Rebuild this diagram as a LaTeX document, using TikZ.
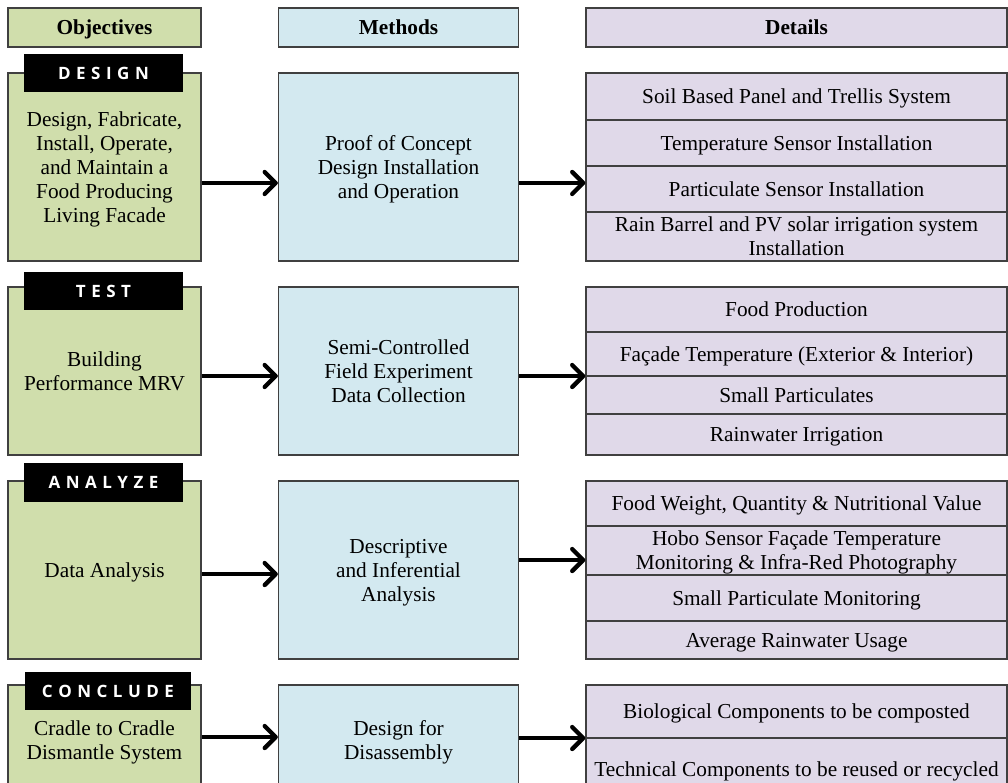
\documentclass[tikz,border=0pt]{standalone}
\usepackage{fontspec}
\setmainfont{Liberation Serif}
\newfontfamily\tagfam{Open Sans}
\usetikzlibrary{arrows.meta}
\definecolor{gfill}{RGB}{208,222,172}
\definecolor{bfill}{RGB}{211,233,240}
\definecolor{pfill}{RGB}{224,217,233}
\definecolor{bord}{RGB}{64,64,64}
\newcommand\lsp{\kern5.5pt}
\newcommand\bodyfnt{\fontsize{21.3}{24}\selectfont}
\tikzset{
  box/.style={draw=bord, line width=1.3pt, inner sep=0pt, align=center, font=\bodyfnt, text=black, text depth=-3pt},
  gbox/.style={box, fill=gfill},
  bbox/.style={box, fill=bfill},
  pbox/.style={box, fill=pfill, minimum width=421pt},
  hdr/.style={font=\bodyfnt\bfseries, minimum height=39pt},
  tagbox/.style={fill=black, text=white, inner sep=0pt, minimum height=38pt, text depth=-3pt, font=\tagfam\fontsize{17}{20}\selectfont\bfseries},
  arr/.style={line width=4.3pt, -{Straight Barb[length=11pt,width=22pt,round]}}
}
\begin{document}
\begin{tikzpicture}[x=1pt,y=-1pt]
\useasboundingbox (0,0) rectangle (1008,783);
\clip (0,0) rectangle (1008,783);
% headers
\node[gbox,hdr,minimum width=193pt] (o0) at (104.5,27.5) {Objectives};
\node[bbox,hdr,minimum width=240pt] (m0) at (398.5,27.5) {Methods};
\node[pbox,hdr] (d0) at (796.5,27.5) {Details};
% row 1
\node[gbox,minimum width=193pt,minimum height=188pt] (o1) at (104.5,167) {Design, Fabricate,\\Install, Operate,\\and Maintain a\\Food Producing\\Living Facade};
\node[tagbox,minimum width=159pt] (t1) at (103.5,73) {D\lsp E\lsp S\lsp I\lsp G\lsp N};
\node[bbox,minimum width=240pt,minimum height=188pt] (m1) at (398.5,167) {Proof of Concept\\Design Installation\\and Operation};
\node[pbox,minimum height=47pt] (d1a) at (796.5,96.5) {Soil Based Panel and Trellis System};
\node[pbox,minimum height=46pt] (d1b) at (796.5,143) {Temperature Sensor Installation};
\node[pbox,minimum height=46pt] (d1c) at (796.5,189) {Particulate Sensor Installation};
\node[pbox,minimum height=49pt] (d1d) at (796.5,236.5) {Rain Barrel and PV solar irrigation system\\Installation};
\draw[arr] ([yshift=-16pt]o1.east) -- ([yshift=-16pt]o1.east -| m1.west);
\draw[arr] ([yshift=-16pt]m1.east) -- ([yshift=-16pt]m1.east -| d1a.west);
% row 2
\node[gbox,minimum width=193pt,minimum height=168pt] (o2) at (104.5,371) {Building\\Performance MRV};
\node[tagbox,minimum width=159pt] (t2) at (103.5,291) {T\lsp E\lsp S\lsp T};
\node[bbox,minimum width=240pt,minimum height=168pt] (m2) at (398.5,371) {Semi-Controlled\\Field Experiment\\Data Collection};
\node[pbox,minimum height=45pt] (d2a) at (796.5,309.5) {Food Production};
\node[pbox,minimum height=44pt] (d2b) at (796.5,354) {Façade Temperature (Exterior \& Interior)};
\node[pbox,minimum height=38pt] (d2c) at (796.5,395) {Small Particulates};
\node[pbox,minimum height=41pt] (d2d) at (796.5,434.5) {Rainwater Irrigation};
\draw[arr] ([yshift=-5pt]o2.east) -- ([yshift=-5pt]o2.east -| m2.west);
\draw[arr] ([yshift=-5pt]m2.east) -- ([yshift=-5pt]m2.east -| d2a.west);
% row 3
\node[gbox,minimum width=193pt,minimum height=178pt] (o3) at (104.5,570) {Data Analysis};
\node[tagbox,minimum width=159pt,minimum height=39pt] (t3) at (103.5,482.5) {A\lsp N\lsp A\lsp L\lsp Y\lsp Z\lsp E};
\node[bbox,minimum width=240pt,minimum height=178pt] (m3) at (398.5,570) {Descriptive\\and Inferential\\Analysis};
\node[pbox,minimum height=45pt] (d3a) at (796.5,503.5) {Food Weight, Quantity \& Nutritional Value};
\node[pbox,minimum height=49pt] (d3b) at (796.5,550.5) {Hobo Sensor Façade Temperature\\Monitoring \& Infra-Red Photography};
\node[pbox,minimum height=46pt] (d3c) at (796.5,598) {Small Particulate Monitoring};
\node[pbox,minimum height=38pt] (d3d) at (796.5,640) {Average Rainwater Usage};
\draw[arr] ([yshift=-4pt]o3.east) -- ([yshift=-4pt]o3.east -| m3.west);
\draw[arr] ([yshift=10pt]m3.east) -- ([yshift=10pt]m3.east -| d3a.west);
% row 4
\node[gbox,minimum width=193pt,minimum height=110pt] (o4) at (104.5,740) {Cradle to Cradle\\Dismantle System};
\node[tagbox,minimum width=166pt] (t4) at (108,691) {C\lsp O\lsp N\lsp C\lsp L\lsp U\lsp D\lsp E};
\node[bbox,minimum width=240pt,minimum height=110pt] (m4) at (398.5,740) {Design for\\Disassembly};
\node[pbox,minimum height=53pt] (d4a) at (796.5,711.5) {Biological Components to be composted};
\node[pbox,minimum height=62pt] (d4b) at (796.5,769) {Technical Components to be reused or recycled};
\draw[arr] ([yshift=3pt]o4.east) -- ([yshift=3pt]o4.east -| m4.west);
\draw[arr] ([yshift=2pt]m4.east) -- ([yshift=2pt]m4.east -| d4a.west);
\end{tikzpicture}
\end{document}
